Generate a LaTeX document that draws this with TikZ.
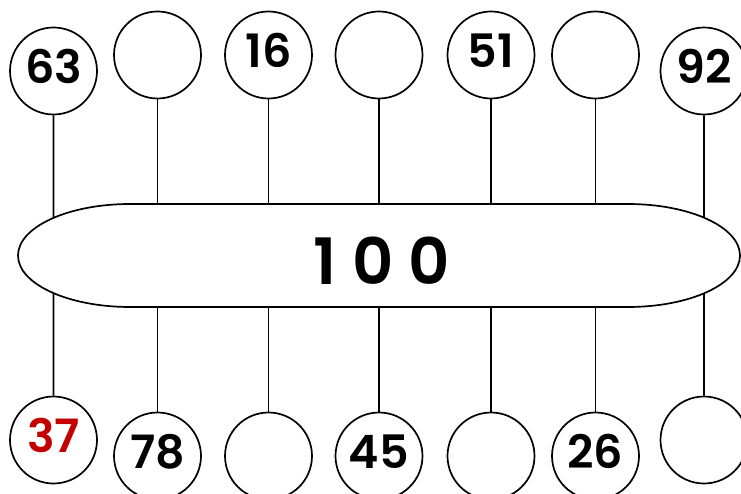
\documentclass[tikz,border=0pt]{standalone}
\usepackage{fontspec}
\setmainfont{Poppins}
\newfontfamily\numfont{Poppins SemiBold}
\usetikzlibrary{intersections}
\definecolor{AnswerRed}{rgb}{0.76, 0.0, 0.0}

\begin{document}
\begin{tikzpicture}[x=1pt, y=1pt, line width=1.7pt,
        bubble/.style={draw, circle, minimum size=87pt, inner sep=0pt,
            font=\fontsize{46}{46}\selectfont\numfont, text depth=9pt}]
        \clip (0,0) rectangle (741,493);

        % Sum bar
        \draw[name path=bar] (130,289) -- (628,289)
            arc[start angle=90, end angle=-90, x radius=112pt, y radius=51.5pt]
            -- (130,186)
            arc[start angle=270, end angle=90, x radius=112pt, y radius=51.5pt] -- cycle;
        \node[font=\fontsize{64}{64}\selectfont\numfont] (total) at (382,232) {1 0 0};
        \coordinate (bartop) at (379,289);
        \coordinate (barbot) at (379,186);

        % Upper bubbles
        \node[bubble] (up1) at (53.5,422) {63};
        \node[bubble] (up2) at (157.5,438) {};
        \node[bubble] (up3) at (268.5,438) {16};
        \node[bubble] (up4) at (379,438) {};
        \node[bubble] (up5) at (491,438) {51};
        \node[bubble] (up6) at (595.5,438) {};
        \node[bubble] (up7) at (704,422) {92};

        % Lower bubbles
        \node[bubble, text=AnswerRed] (down1) at (53.5,53) {37};
        \node[bubble] (down2) at (157.5,37) {78};
        \node[bubble] (down3) at (268.5,37) {};
        \node[bubble] (down4) at (379,37) {45};
        \node[bubble] (down5) at (491,37) {};
        \node[bubble] (down6) at (595.5,37) {26};
        \node[bubble] (down7) at (704,53) {};

        % Sticks on the straight part
        \foreach \i in {2,...,6} {
            \draw (up\i) -- (up\i |- bartop);
            \draw (down\i) -- (down\i |- barbot);
        }

        % Sticks on the round ends
        \path[name path=leftstick] (up1.center) -- (down1.center);
        \path[name path=rightstick] (up7.center) -- (down7.center);
        \path[name intersections={of=leftstick and bar, sort by=leftstick, name=lcut}];
        \path[name intersections={of=rightstick and bar, sort by=rightstick, name=rcut}];
        \draw (up1) -- (lcut-1);
        \draw (lcut-2) -- (down1);
        \draw (up7) -- (rcut-1);
        \draw (rcut-2) -- (down7);
    \end{tikzpicture}
\end{document}
